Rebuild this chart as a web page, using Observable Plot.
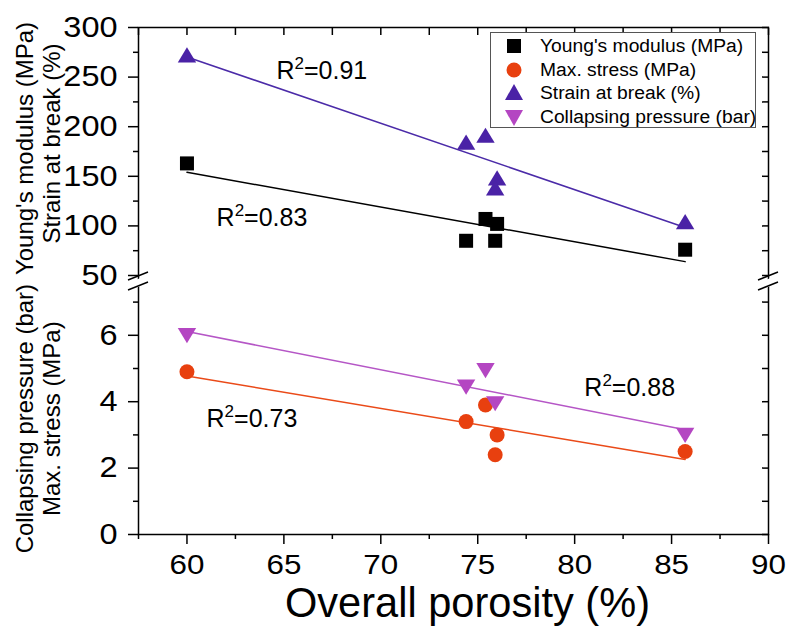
<!DOCTYPE html>
<html>
<head>
<meta charset="utf-8">
<script src="https://cdn.jsdelivr.net/npm/d3@7"></script>
<script src="https://cdn.jsdelivr.net/npm/@observablehq/plot@0.6"></script>
<style>
  body { margin: 0; background: #ffffff; font-family: "Liberation Sans", Arial, sans-serif; }
  #wrap { position: relative; width: 786px; height: 627px; overflow: hidden; }
  #legend { position: absolute; left: 490px; top: 32px; width: 266px; height: 96px;
            border: 1px solid #555; background: #fff; box-sizing: border-box; font-size: 18px; color: #000; }
  #legend .row { position: absolute; left: 0; height: 24px; width: 100%; }
  #legend svg { position: absolute; left: 12px; top: 2px; }
  #legend span { position: absolute; left: 49px; white-space: nowrap; line-height: 24px; top: 0;
                 transform: scaleX(1.07); transform-origin: left center; }
</style>
</head>
<body>
<div id="wrap"><div id="legend"></div></div>
<script>
// ---- data ----
const porosity          = [60, 74.4, 75.4, 76.0, 75.9, 85.7];
const youngsModulus     = [163, 85, 107, 102, 85, 76];
const strainAtBreak     = [272, 184, 191, 148, 138, 104];
const maxStress         = [4.9, 3.4, 3.9, 3.0, 2.4, 2.5];
const collapsePorosity  = [60, 74.4, 75.4, 75.9, 85.7];
const collapsingPressure= [6.0, 4.45, 4.95, 3.95, 3.0];

const seriesNames = ["Young's modulus (MPa)", "Max. stress (MPa)", "Strain at break (%)", "Collapsing pressure (bar)"];
const seriesColors = ["#000000", "#e8400f", "#4a22a6", "#b446c2"];
const lineColors   = ["#000000", "#ea4a18", "#4b2ba8", "#b556c6"];

const xMajor = [60, 65, 70, 75, 80, 85, 90];
const xMinor = [57.5, 62.5, 67.5, 72.5, 77.5, 82.5, 87.5];
const upperMajor = [50, 100, 150, 200, 250, 300];
const upperMinor = [75, 125, 175, 225, 275];
const lowerMajor = [0, 2, 4, 6];
const lowerMinor = [1, 3, 5, 7];

const r2Text = ["R²=0.91", "R²=0.83", "R²=0.73", "R²=0.88"];
const r2X    = [66.96, 63.87, 63.35, 82.84];
const r2Y    = [256.6, 107.5, 3.48, 4.41];

const yTitles  = ["Young's modulus (MPa)", "Strain at break (%)", "Collapsing pressure (bar)", "Max. stress (MPa)"];
const yTitleY  = [178, 183, 3.49, 3.49];
const yTitleDx = [-113, -86, -113, -86];
const xTitle = "Overall porosity (%)";

// ---- tables ----
const young = porosity.map((x, i) => ({x, y: youngsModulus[i]}));
const strain = porosity.map((x, i) => ({x, y: strainAtBreak[i]}));
const stress = porosity.map((x, i) => ({x, y: maxStress[i]}));
const collapse = collapsePorosity.map((x, i) => ({x, y: collapsingPressure[i]}));
const r2 = r2Text.map((t, i) => ({t, x: r2X[i], y: r2Y[i]}));

// custom triangle symbols
const triUp = { draw(ctx, size) { const r = Math.sqrt(size / Math.PI);
  ctx.moveTo(0, -1.0 * r); ctx.lineTo(1.15 * r, 0.9 * r); ctx.lineTo(-1.15 * r, 0.9 * r); ctx.closePath(); } };
const triDown = { draw(ctx, size) { const r = Math.sqrt(size / Math.PI);
  ctx.moveTo(0, 1.0 * r); ctx.lineTo(1.15 * r, -0.9 * r); ctx.lineTo(-1.15 * r, -0.9 * r); ctx.closePath(); } };

const W = 786, H = 627;
const blank = () => "";

const titleMarks = yTitles.map((t, i) =>
  Plot.text([{t, y: yTitleY[i]}], { y: "y", text: "t", frameAnchor: "left", textAnchor: "middle",
    rotate: -90, dx: yTitleDx[i], fontSize: 24, fill: "#000" }));

const plot = Plot.plot({
  width: W, height: H,
  marginLeft: 138, marginRight: 18, marginTop: 27, marginBottom: 93,
  style: { fontFamily: "'Liberation Sans', Arial, sans-serif", background: "transparent", color: "#000" },
  x: { domain: [57.5, 90] },
  y: { type: "linear", domain: [0, 7.5, 50, 300], range: [534, 285, 275, 27] },
  marks: [
    Plot.frame({ stroke: "#000", strokeWidth: 1.5 }),
    // axes
    Plot.axisX(xMajor, { anchor: "bottom", tickSize: 10, tickPadding: 10, fontSize: 28, label: null, strokeWidth: 1.5 }),
    Plot.axisX(xMinor, { anchor: "bottom", tickSize: 5, tickFormat: blank, label: null, strokeWidth: 1.5 }),
    Plot.axisX(xMajor.concat(xMinor), { anchor: "top", tickSize: 7, dy: 7, tickFormat: blank, label: null, strokeWidth: 1.5 }),
    Plot.axisY(upperMajor, { anchor: "left", tickSize: 10, tickPadding: 11, fontSize: 29, label: null, strokeWidth: 1.5 }),
    Plot.axisY(upperMinor, { anchor: "left", tickSize: 5, tickFormat: blank, label: null, strokeWidth: 1.5 }),
    Plot.axisY(lowerMajor, { anchor: "left", tickSize: 10, tickPadding: 11, fontSize: 29, label: null, strokeWidth: 1.5 }),
    Plot.axisY(lowerMinor, { anchor: "left", tickSize: 5, tickFormat: blank, label: null, strokeWidth: 1.5 }),
    Plot.axisY(upperMajor.concat(upperMinor, lowerMajor, lowerMinor), { anchor: "right", tickSize: 7, dx: -7, tickFormat: blank, label: null, strokeWidth: 1.5 }),
    // regression lines
    Plot.linearRegressionY(young, { x: "x", y: "y", stroke: lineColors[0], strokeWidth: 1.5, ci: 0 }),
    Plot.linearRegressionY(strain, { x: "x", y: "y", stroke: lineColors[2], strokeWidth: 1.5, ci: 0 }),
    Plot.linearRegressionY(stress, { x: "x", y: "y", stroke: lineColors[1], strokeWidth: 1.5, ci: 0 }),
    Plot.linearRegressionY(collapse, { x: "x", y: "y", stroke: lineColors[3], strokeWidth: 1.5, ci: 0 }),
    // points
    Plot.dot(young, { x: "x", y: "y", symbol: "square", r: 7.9, fill: seriesColors[0], stroke: "none" }),
    Plot.dot(stress, { x: "x", y: "y", symbol: "circle", r: 7.5, fill: seriesColors[1], stroke: "none" }),
    Plot.dot(strain, { x: "x", y: "y", symbol: triUp, r: 8, fill: seriesColors[2], stroke: "none" }),
    Plot.dot(collapse, { x: "x", y: "y", symbol: triDown, r: 8, fill: seriesColors[3], stroke: "none" }),
    // annotations
    Plot.text(r2, { x: "x", y: "y", text: "t", fontSize: 25, fill: "#000" }),
    ...titleMarks,
    Plot.text([xTitle], { frameAnchor: "bottom", dy: 82, dx: 14, fontSize: 43, fill: "#000" })
  ]
});

document.getElementById("wrap").prepend(plot);
plot.style.position = "absolute";
plot.style.left = "0px";
plot.style.top = "0px";

const svg = d3.select(plot);

// superscripts for R² labels; slight horizontal stretch of tick labels as in the reference
svg.selectAll("text").each(function () {
  const t = this.textContent;
  if (t.startsWith("R²")) {
    const rest = t.slice(2);
    const el = d3.select(this);
    el.text(null);
    el.append("tspan").text("R");
    el.append("tspan").attr("dy", -10).attr("font-size", 17).text("2");
    el.append("tspan").attr("dy", 10).text(rest);
  } else if (t === xTitle) {
    this.setAttribute("textLength", 365);
    this.setAttribute("lengthAdjust", "spacingAndGlyphs");
  }
});
svg.selectAll('g[aria-label="y-axis tick label"] text, g[aria-label="x-axis tick label"] text').each(function () {
  const len = this.getComputedTextLength();
  if (len > 0) {
    this.setAttribute("textLength", len * 1.12);
    this.setAttribute("lengthAdjust", "spacingAndGlyphs");
  }
});

// axis break marks
const xs = plot.scale("x"), ys = plot.scale("y");
const yTop = ys.apply(50), yBot = ys.apply(7.5);
const yMid = (yTop + yBot) / 2 + 1;
const g = svg.append("g");
[xs.apply(57.5), xs.apply(90)].forEach(x0 => {
  g.append("path")
    .attr("d", `M${x0 - 10},${yMid + 2} L${x0 + 10},${yMid - 6} L${x0 + 10},${yMid + 2} L${x0 - 10},${yMid + 10} Z`)
    .attr("fill", "#fff").attr("stroke", "none");
  g.append("line").attr("x1", x0 - 10).attr("y1", yMid - 1).attr("x2", x0 + 10).attr("y2", yMid - 9)
    .attr("stroke", "#000").attr("stroke-width", 1.5);
  g.append("line").attr("x1", x0 - 10).attr("y1", yMid + 9).attr("x2", x0 + 10).attr("y2", yMid + 1)
    .attr("stroke", "#000").attr("stroke-width", 1.5);
});

// legend (HTML)
const legend = document.getElementById("legend");
const shapes = ["square", "circle", "up", "down"];
seriesNames.forEach((name, i) => {
  const row = document.createElement("div");
  row.className = "row";
  row.style.top = (1 + i * 23.5) + "px";
  const ns = "http://www.w3.org/2000/svg";
  const s = document.createElementNS(ns, "svg");
  s.setAttribute("width", 22); s.setAttribute("height", 20);
  const c = seriesColors[i];
  let el;
  if (shapes[i] === "square") {
    el = document.createElementNS(ns, "rect");
    el.setAttribute("x", 4); el.setAttribute("y", 3); el.setAttribute("width", 14); el.setAttribute("height", 14);
  } else if (shapes[i] === "circle") {
    el = document.createElementNS(ns, "circle");
    el.setAttribute("cx", 11); el.setAttribute("cy", 10); el.setAttribute("r", 7.5);
  } else if (shapes[i] === "up") {
    el = document.createElementNS(ns, "path");
    el.setAttribute("d", "M11,1 L20,17 L2,17 Z");
  } else {
    el = document.createElementNS(ns, "path");
    el.setAttribute("d", "M11,19 L20,3 L2,3 Z");
  }
  el.setAttribute("fill", c);
  s.appendChild(el);
  row.appendChild(s);
  const sp = document.createElement("span");
  sp.textContent = name;
  row.appendChild(sp);
  legend.appendChild(row);
});
</script>
</body>
</html>
